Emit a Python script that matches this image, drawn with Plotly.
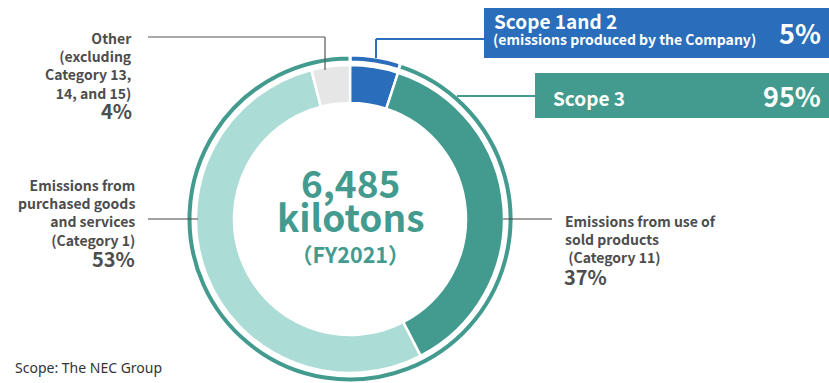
import plotly.graph_objects as go

W, H = 829, 383

# Category breakdown (inner ring, clockwise from 12 o'clock)
categories = ["Scope 1 and 2", "Category 11", "Category 1", "Other"]
shares = [5, 37, 53, 4]
cat_colors = ["#2a6ebb", "#429b8e", "#acdcd6", "#e6e6e6"]

# Scope split (outer ring)
scopes = ["Scope 1 and 2", "Scope 3"]
scope_shares = [5, 95]
scope_colors = ["#2a6ebb", "#429b8e"]

total_kt = "6,485"
fiscal_year = "FY2021"

FONT = "Noto Sans CJK JP"
GRAY = "#4d4d4d"
TEAL = "#429b8e"
BLUE = "#2a6ebb"

CX, CY = 350, 219  # pixel centre of the donut


def px(x):
    return x / W


def py(y):
    return 1 - y / H


def domain(r):
    return dict(x=[px(CX - r), px(CX + r)],
                y=[max(0.0, py(CY + r)), min(1.0, py(CY - r))])


fig = go.Figure()

fig.add_trace(go.Pie(
    labels=scopes, values=scope_shares, sort=False, direction="clockwise",
    rotation=0, hole=157 / 164, domain=domain(164),
    marker=dict(colors=scope_colors, line=dict(color="white", width=3)),
    textinfo="none", hoverinfo="label+percent", showlegend=False,
))

fig.add_trace(go.Pie(
    labels=categories, values=shares, sort=False, direction="clockwise",
    rotation=0, hole=116 / 154, domain=domain(154),
    marker=dict(colors=cat_colors, line=dict(color="white", width=2.5)),
    textinfo="none", hoverinfo="label+percent", showlegend=False,
))

shapes = []


def seg(x0, y0, x1, y1, color, width=1.5):
    shapes.append(dict(type="line", xref="paper", yref="paper",
                       x0=px(x0), y0=py(y0), x1=px(x1), y1=py(y1),
                       line=dict(color=color, width=width)))


def box(x0, y0, x1, y1, color):
    shapes.append(dict(type="rect", xref="paper", yref="paper",
                       x0=px(x0), y0=py(y0), x1=px(x1), y1=py(y1),
                       fillcolor=color, line=dict(width=0), layer="above"))


# callout boxes
box(484, 8, 829, 58, BLUE)
box(535, 73, 829, 118, TEAL)

# leader lines
seg(376, 58, 376, 39, BLUE, 2)
seg(376, 39, 485, 39, BLUE, 2)
seg(457, 96, 536, 96, TEAL, 2)
seg(148, 37, 325, 37, "#555555", 1.2)
seg(325, 37, 325, 70, "#555555", 1.2)
seg(148, 219, 198, 219, "#444444", 1.2)
seg(503, 219, 552, 219, "#444444", 1.2)

annotations = []


def text(x, y, s, size, color=GRAY, anchor="left", bold=True, family=FONT):
    if bold:
        s = f"<b>{s}</b>"
    annotations.append(dict(
        xref="paper", yref="paper", x=px(x), y=py(y), text=s,
        showarrow=False, xanchor=anchor, yanchor="middle", align=anchor,
        font=dict(family=family, size=size, color=color),
    ))


# centre total
text(CX, 182, total_kt, 37, TEAL, "center")
text(CX, 216, "kilotons", 37, TEAL, "center")
text(CX, 253, f"（{fiscal_year}）", 21.5, TEAL, "center")

# scope boxes
text(492, 20, "Scope 1and 2", 19, "white")
text(491, 39, "(emissions produced by the Company)", 14, "white")
text(823, 33, f"{scope_shares[0]}%", 27, "white", "right")
text(551, 97, "Scope 3", 19, "white")
text(823, 95, f"{scope_shares[1]}%", 27, "white", "right")

# category labels
LBL = 14
text(134, 66, "Other<br>(excluding<br>Category 13,<br>14, and 15)", LBL, anchor="right")
text(134, 110, f"{shares[3]}%", 20, anchor="right")

text(137, 212, "Emissions from<br>purchased goods<br>and services<br>(Category 1)", LBL, anchor="right")
text(137, 258, f"{shares[2]}%", 20, anchor="right")

text(563, 239.5, "Emissions from use of<br>sold products<br> (Category 11)", LBL)
text(562, 276, f"{shares[1]}%", 20)

text(13, 367, "Scope: The NEC Group", 14, "#333333", bold=False, family="Noto Sans")

fig.update_layout(
    width=W, height=H, margin=dict(l=0, r=0, t=0, b=0),
    paper_bgcolor="white", plot_bgcolor="white",
    shapes=shapes, annotations=annotations,
)

fig.write_html("out.html")
